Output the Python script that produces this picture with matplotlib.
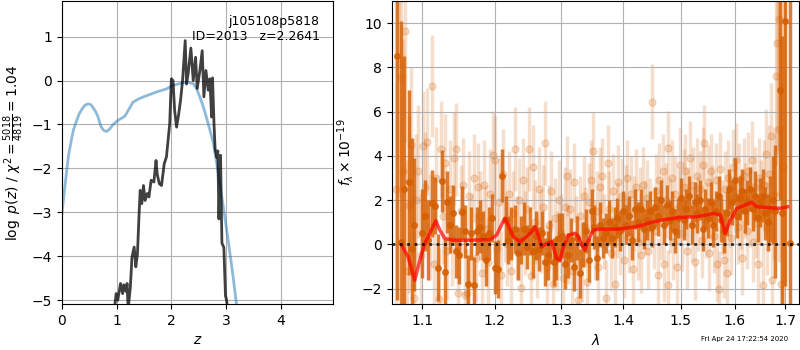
import matplotlib
matplotlib.use("Agg")
import matplotlib.pyplot as plt
from matplotlib.ticker import NullLocator

# p(z) и chi2 (левая панель)
z_chi2 = [0.0, 0.04, 0.08, 0.12, 0.17, 0.21, 0.26, 0.31, 0.37, 0.42, 0.48, 0.53, 0.57,
          0.62, 0.66, 0.69, 0.72, 0.76, 0.81, 0.86, 0.93, 0.97, 1.03, 1.10, 1.15, 1.22,
          1.30, 1.40, 1.49, 1.60, 1.73, 1.91, 2.03, 2.15, 2.28, 2.40, 2.46, 2.52, 2.58,
          2.64, 2.70, 2.77, 2.86, 2.95, 3.04, 3.13, 3.19, 3.25]
chi2_curve = [-3.03, -2.55, -2.12, -1.70, -1.36, -1.12, -0.94, -0.77, -0.64, -0.56, -0.53,
              -0.55, -0.62, -0.72, -0.83, -0.96, -1.06, -1.13, -1.16, -1.12, -1.01, -0.96,
              -0.90, -0.85, -0.81, -0.66, -0.49, -0.42, -0.37, -0.32, -0.26, -0.19, -0.11,
              -0.07, -0.03, -0.07, -0.18, -0.37, -0.58, -0.83, -1.10, -1.43, -2.12, -2.88,
              -3.64, -4.47, -5.08, -5.6]

z_pz = [0.95, 0.99, 1.02, 1.07, 1.11, 1.13, 1.17, 1.19, 1.21, 1.25, 1.28, 1.32, 1.35, 1.38,
        1.41, 1.43, 1.46, 1.49, 1.52, 1.56, 1.59, 1.63, 1.68, 1.72, 1.74, 1.78, 1.82, 1.87,
        1.91, 1.94, 1.97, 2.00, 2.03, 2.06, 2.095, 2.13, 2.168, 2.205, 2.253, 2.278, 2.308,
        2.357, 2.40, 2.443, 2.473, 2.522, 2.564, 2.595, 2.632, 2.674, 2.705, 2.736, 2.753,
        2.78, 2.80, 2.83, 2.85, 2.87, 2.885, 2.90, 2.91, 2.925, 2.96, 2.99, 3.01, 3.04]
log_pz = [-5.3, -4.85, -5.0, -4.62, -4.85, -4.65, -4.8, -4.62, -5.2, -4.70, -4.02, -3.79,
          -4.24, -3.94, -3.03, -2.5, -2.8, -2.39, -2.73, -2.57, -2.65, -2.27, -2.31, -1.82,
          -2.12, -2.35, -2.39, -1.89, -1.74, -1.36, -0.98, 0.04, 0.0, -0.68, -1.06, -0.8,
          -0.45, 0.0, 0.91, -0.08, 0.17, 0.74, 0.0, 0.53, -0.18, 0.23, 0.68, -0.37, 0.23,
          -0.22, 0.04, -0.83, 0.06, -0.98, -1.55, -1.75, -1.6, -3.15, -2.3, -1.7, -2.6,
          -3.7, -3.8, -4.9, -5.0, -5.3]

# спектр: бинированные точки (тёмные)
lam_bin = [1.068, 1.072, 1.076, 1.083, 1.087, 1.090, 1.100, 1.104, 1.108, 1.113, 1.117,
           1.121, 1.126, 1.130, 1.134, 1.138, 1.142, 1.146, 1.150, 1.154, 1.158, 1.162,
           1.166, 1.170, 1.175, 1.179, 1.183, 1.187, 1.192, 1.196, 1.200, 1.205, 1.211,
           1.216, 1.220, 1.224, 1.229, 1.234, 1.238, 1.243, 1.247, 1.252, 1.256, 1.261,
           1.265, 1.270, 1.274, 1.279, 1.283, 1.288, 1.292, 1.297, 1.301, 1.306, 1.311,
           1.315, 1.320, 1.325, 1.329, 1.334, 1.339, 1.343, 1.348, 1.352, 1.357, 1.362,
           1.366, 1.371, 1.376, 1.381, 1.386, 1.390, 1.395, 1.400, 1.405, 1.410, 1.415,
           1.420, 1.425, 1.430, 1.435, 1.440, 1.445, 1.450, 1.455, 1.460, 1.465, 1.470,
           1.475, 1.480, 1.485, 1.490, 1.495, 1.500, 1.505, 1.510, 1.515, 1.520, 1.525,
           1.530, 1.535, 1.540, 1.545, 1.550, 1.555, 1.560, 1.565, 1.570, 1.575, 1.580,
           1.585, 1.590, 1.595, 1.600, 1.605, 1.610, 1.615, 1.620, 1.625, 1.630, 1.635,
           1.640, 1.645, 1.650, 1.655, 1.660, 1.665, 1.670, 1.675, 1.680, 1.689, 1.693,
           1.700, 1.710]
flux_bin = [8.5, 0.1, 2.5, 2.8, -0.2, 0.9, 0.5, 1.3, 0.2, 1.85, 1.75, -1.05, 2.85, -1.25,
            1.9, 0.9, 1.4, -0.3, -0.5, 1.45, 0.6, -1.8, 0.5, -1.85, 0.6, 0.8, 0.4, -0.7,
            0.5, 1.2, -1.05, -1.1, 3.1, 1.1, 0.2, 0.5, 0.7, -0.4, 0.2, 0.7, -0.1, 0.6,
            -0.3, 0.4, -0.2, 0.5, -0.8, -0.5, 0.1, -0.8, -0.6, 0.3, 0.4, -0.9, -0.5, 0.2,
            -1.0, 0.3, -1.3, 0.0, 0.6, -0.7, 1.5, 0.8, -0.6, 0.9, 0.3, 0.5, 1.0, 0.3, 0.8,
            1.2, 0.6, 1.5, 0.9, 1.3, 0.2, 1.6, 1.0, 1.6, 0.7, 1.1, 1.5, 0.8, 1.7, 1.3, 2.0,
            0.9, 1.8, 1.1, 1.5, 0.6, 1.2, 2.1, 1.1, 1.6, 2.2, 0.9, 1.9, 1.4, 2.0, 0.7, 1.6,
            1.2, 1.9, 0.9, 1.5, 2.2, 1.1, 0.6, 1.4, 2.5, 1.9, 2.9, 1.3, 2.1, 2.4, 1.5, 1.9,
            2.5, 1.6, 2.2, 1.2, 1.9, 2.2, 1.4, 1.0, 1.6, 2.0, 1.5, 7.0, 1.4, 10.1, 0.05]
err_bin = [11, 10, 6, 4.2, 5, 3, 2.0, 1.6, 1.8, 1.5, 1.3, 1.5, 1.4, 1.5, 1.4, 1.3, 1.3,
           1.2, 1.3, 1.2, 1.2, 1.3, 1.2, 1.3, 1.1, 1.2, 1.1, 1.2, 1.2, 1.1, 1.2, 1.3, 1.2,
           1.1, 1.1, 1.2, 1.1, 1.2, 1.1, 1.2, 1.0, 1.1, 1.2, 1.1, 1.0, 1.0, 1.1, 1.1, 1.0,
           1.1, 1.0, 1.1, 1.0, 1.1, 1.0, 1.0, 1.1, 1.0, 1.1, 1.0, 1.0, 1.0, 1.0, 1.0, 1.0,
           1.0, 0.9, 0.9, 1.0, 0.9, 0.9, 0.9, 0.9, 0.9, 0.9, 0.9, 0.9, 0.9, 0.9, 0.9, 0.9,
           0.9, 0.9, 0.9, 0.9, 0.9, 0.9, 0.9, 0.9, 0.9, 0.9, 1.0, 0.9, 0.9, 0.9, 0.9, 0.9,
           0.9, 0.9, 0.9, 0.9, 1.0, 0.9, 0.9, 0.9, 1.0, 0.9, 0.9, 1.0, 1.0, 1.0, 0.9, 1.0,
           1.0, 1.0, 1.0, 1.0, 1.0, 1.0, 1.0, 1.0, 1.1, 1.1, 1.1, 1.2, 1.2, 1.3, 1.5, 2.0,
           3.0, 5.0, 8.0, 12, 14]

# спектр: исходные точки (светлые)
lam_raw = [1.066, 1.070, 1.073, 1.075, 1.078, 1.080, 1.083, 1.086, 1.089, 1.092, 1.095,
           1.098, 1.101, 1.104, 1.107, 1.110, 1.113, 1.116, 1.119, 1.122, 1.125, 1.128,
           1.131, 1.134, 1.137, 1.140, 1.143, 1.146, 1.149, 1.152, 1.155, 1.158, 1.161,
           1.164, 1.167, 1.170, 1.173, 1.176, 1.179, 1.182, 1.185, 1.188, 1.191, 1.194,
           1.197, 1.200, 1.203, 1.206, 1.209, 1.212, 1.215, 1.218, 1.221, 1.224, 1.227,
           1.230, 1.233, 1.236, 1.239, 1.242, 1.245, 1.248, 1.251, 1.254, 1.257, 1.260,
           1.263, 1.266, 1.269, 1.272, 1.275, 1.278, 1.281, 1.284, 1.287, 1.290, 1.293,
           1.296, 1.299, 1.302, 1.305, 1.308, 1.311, 1.314, 1.317, 1.320, 1.323, 1.326,
           1.329, 1.332, 1.335, 1.338, 1.341, 1.344, 1.347, 1.350, 1.353, 1.356, 1.359,
           1.362, 1.365, 1.368, 1.371, 1.374, 1.377, 1.380, 1.383, 1.386, 1.389, 1.392,
           1.395, 1.398, 1.401, 1.404, 1.407, 1.410, 1.413, 1.416, 1.419, 1.422, 1.425,
           1.428, 1.431, 1.434, 1.437, 1.440, 1.443, 1.446, 1.450, 1.453, 1.456, 1.459,
           1.462, 1.465, 1.468, 1.471, 1.474, 1.477, 1.478, 1.481, 1.484, 1.487, 1.490,
           1.493, 1.496, 1.499, 1.502, 1.505, 1.508, 1.511, 1.514, 1.517, 1.520, 1.523,
           1.526, 1.529, 1.532, 1.535, 1.538, 1.541, 1.543, 1.546, 1.549, 1.552, 1.555,
           1.558, 1.561, 1.564, 1.567, 1.570, 1.573, 1.576, 1.579, 1.582, 1.585, 1.588,
           1.591, 1.594, 1.597, 1.600, 1.603, 1.606, 1.609, 1.612, 1.615, 1.618, 1.621,
           1.624, 1.627, 1.630, 1.633, 1.636, 1.639, 1.642, 1.645, 1.648, 1.651, 1.655,
           1.658, 1.661, 1.664, 1.667, 1.671, 1.674, 1.677, 1.681, 1.684, 1.688, 1.688,
           1.691, 1.695]
flux_raw = [2.5, 8.15, 7.55, 3.3, 9.65, -1.2, 1.8, 4.5, -2.4, 2.0, 3.3, -0.5, 4.45, 2.6,
            4.65, 0.8, 7.15, -0.9, 3.0, -2.45, 4.3, 1.3, 3.7, -0.3, 2.5, 0.2, 3.9, 4.3,
            -2.2, 1.5, 2.7, -2.3, -2.2, 2.2, 0.3, 3.0, -0.6, 2.6, 1.3, -1.3, 2.7, 0.7,
            -0.8, 2.3, 4.05, 3.8, -0.2, 1.9, -1.4, 3.2, 1.1, 0.0, 2.3, -1.2, 1.4, 4.3, 0.3,
            2.0, -1.95, 2.9, 0.5, 1.6, 4.3, -1.45, 3.5, 1.0, -0.5, 2.5, 0.6, 1.7, 4.6,
            -1.0, 0.9, 2.4, -1.8, 1.2, -0.3, 2.0, 0.5, -1.5, 1.7, 3.1, 0.0, 1.6, -1.2,
            2.8, 0.4, -2.5, 1.3, -0.8, 2.2, 0.8, -1.7, 1.9, 2.9, 4.2, 0.2, 1.5, -1.0, 2.6,
            3.1, 0.6, -2.4, 3.7, 1.6, -0.4, 2.4, -1.77, 1.1, 2.8, 0.3, 2.2, -0.7, 1.9,
            3.0, 0.4, 2.3, -1.1, 1.4, 2.6, 0.1, 1.8, -0.5, 2.7, 1.2, 2.1, -0.3, 1.5, 6.45,
            0.6, 2.4, -1.4, 2.9, 1.0, 3.3, -0.9, 2.0, -1.85, 4.35, 1.3, 3.0, 0.1, 2.3,
            -1.0, 1.7, 3.6, 0.5, 2.6, 3.3, -0.3, 1.8, 3.9, 0.9, 2.7, -0.8, 3.1, 1.4, 2.5,
            0.2, 3.6, 4.6, 1.1, 2.8, -0.4, 3.3, 1.9, 0.4, 2.9, -0.9, -2.0, 3.4, 1.2, -0.7,
            2.5, -1.3, 3.0, 1.6, 0.3, 3.5, 2.2, 3.8, 0.8, 2.9, 1.5, -0.6, 3.1, 2.0, 0.6,
            3.3, 1.7, 3.8, 0.1, 2.6, 1.2, -0.9, 3.0, 1.9, -1.85, 2.7, 4.1, 0.7, 3.2, 4.9,
            -1.6, 2.3, 7.6, 9.1, 10.2, 5.2, -1.8, 3.5]
err_raw = [9, 6, 5, 6, 5, 5, 4, 3.5, 3, 3, 3, 2.8, 2.5, 2.5, 2.4, 2.4, 2.3, 2.3, 2.3,
           2.3, 2.2, 2.2, 2.2, 2.2, 2.2, 2.1, 2.1, 2.1, 2.1, 2.1, 2.1, 2.1, 2.0, 2.0, 2.0,
           2.0, 2.0, 2.0, 2.0, 2.0, 2.0, 2.0, 2.0, 2.0, 2.0, 2.0, 2.0, 2.0, 2.0, 2.0, 1.9,
           1.9, 1.9, 1.9, 1.9, 1.9, 1.9, 1.9, 1.9, 1.9, 1.9, 1.9, 1.9, 1.9, 1.9, 1.9, 1.9,
           1.9, 1.9, 1.9, 1.9, 1.9, 1.8, 1.8, 1.8, 1.8, 1.8, 1.8, 1.8, 1.8, 1.8, 1.8, 1.8,
           1.8, 1.8, 1.8, 1.8, 1.8, 1.8, 1.8, 1.8, 1.8, 1.8, 1.8, 1.8, 1.8, 1.8, 1.8, 1.8,
           1.8, 1.7, 1.7, 1.7, 1.7, 1.7, 1.7, 1.7, 1.7, 1.7, 1.7, 1.7, 1.7, 1.7, 1.7, 1.7,
           1.7, 1.7, 1.7, 1.7, 1.7, 1.7, 1.7, 1.7, 1.7, 1.7, 1.7, 1.7, 1.5, 1.7, 1.7,
           1.7, 1.7, 1.7, 1.7, 1.7, 1.7, 1.7, 1.6, 1.7, 1.7, 1.7, 1.7, 1.7, 1.7, 1.7, 1.7,
           1.7, 1.7, 1.7, 1.7, 1.7, 1.7, 1.7, 1.7, 1.7, 1.7, 1.7, 1.7, 1.7, 1.7, 1.7, 1.7,
           1.7, 1.7, 1.7, 1.7, 1.7, 1.7, 1.7, 1.7, 1.7, 1.7, 1.7, 1.7, 1.7, 1.7, 1.7, 1.7,
           1.7, 1.7, 1.7, 1.7, 1.7, 1.7, 1.7, 1.7, 1.7, 1.7, 1.8, 1.8, 1.8, 1.8, 1.8, 1.8,
           1.8, 1.8, 1.9, 1.9, 2.0, 2.0, 2.1, 2.2, 2.4, 2.6, 3, 4, 5, 6, 6, 7, 9]

# модель
lam_model = [1.0732, 1.0817, 1.0904, 1.097, 1.1036, 1.1102, 1.1182, 1.1236, 1.1304, 1.1417,
             1.1649, 1.1932, 1.2028, 1.2086, 1.2148, 1.2207, 1.2270, 1.2369, 1.2468,
             1.2544, 1.2594, 1.2644, 1.2695, 1.2772, 1.2849, 1.2926, 1.2978, 1.3030,
             1.3108, 1.3214, 1.3267, 1.3321, 1.3373, 1.3427, 1.3508, 1.3617, 1.3893,
             1.4116, 1.4287, 1.4517, 1.4752, 1.4990, 1.5293, 1.5602, 1.5728, 1.5822,
             1.5918, 1.6046, 1.6207, 1.6337, 1.6436, 1.6634, 1.6903, 1.7050]
flux_model = [-0.03, -0.56, -1.62, -0.71, 0.05, 0.50, 1.07, 0.65, 0.27, 0.19, 0.19, 0.22,
              0.42, 0.80, 1.18, 0.80, 0.35, 0.12, 0.35, 0.57, 0.80, 0.42, -0.11, 0.04,
              0.12, -0.63, -0.71, -0.11, 0.42, 0.50, 0.35, -0.03, -0.26, 0.19, 0.65, 0.69,
              0.69, 0.76, 0.84, 1.02, 1.14, 1.22, 1.25, 1.40, 1.33, 0.50, 1.10, 1.63,
              1.78, 1.90, 1.70, 1.67, 1.63, 1.70]

lam_ticks = [1.1, 1.2, 1.3, 1.4, 1.5, 1.6, 1.7]

G141_COLOR = (0.8352941176470589, 0.3686274509803922, 0.0)

fig = plt.figure(figsize=(8, 3.5), dpi=100)
ax1 = fig.add_axes([0.0775, 0.131, 0.339, 0.866])
ax2 = fig.add_axes([0.49, 0.131, 0.509, 0.866])

# Левая панель
ax1.plot(z_chi2, chi2_curve, color="tab:blue", alpha=0.5, lw=2)
ax1.plot(z_pz, log_pz, color="k", alpha=0.75, lw=2)
ax1.set_xlim(0, 4.96)
ax1.set_ylim(-5.09, 1.81)
ax1.set_xticks([0, 1, 2, 3, 4])
ax1.grid()
ax1.set_xlabel(r"$z$")
ax1.set_ylabel(r"$\log\ p(z)$ / $\chi^2=\frac{5018}{4819}=1.04$")
ax1.text(0.95, 0.955, "j105108p5818\nID=2013   z=2.2641", transform=ax1.transAxes,
         ha="right", va="top", fontsize=9)

# Правая панель
ax2.errorbar(lam_raw, flux_raw, yerr=err_raw, color=G141_COLOR, alpha=0.2,
             marker="o", ms=5, linestyle="None", elinewidth=2.5, zorder=1)
ax2.errorbar(lam_bin, flux_bin, yerr=err_bin, color=G141_COLOR, alpha=0.8,
             marker="o", ms=4, linestyle="None", elinewidth=2.5, zorder=2)
ax2.plot(lam_model, flux_model, color="r", alpha=0.7, lw=2.5, zorder=4)
ax2.axhline(0, color="k", ls=":", lw=2, alpha=0.8, zorder=5)

ax2.set_xscale("log")
ax2.set_xlim(1.061, 1.729)
ax2.set_ylim(-2.7, 11)
ax2.set_xticks(lam_ticks)
ax2.set_xticklabels([f"{t:.1f}" for t in lam_ticks])
ax2.xaxis.set_minor_locator(NullLocator())
ax2.grid()
ax2.set_xlabel(r"$\lambda$")
ax2.set_ylabel(r"$f_\lambda\times10^{-19}$")

fig.text(0.985, 0.031, "Fri Apr 24 17:22:54 2020", ha="right", va="center", fontsize=5)

plt.savefig("out.png", dpi=100)
